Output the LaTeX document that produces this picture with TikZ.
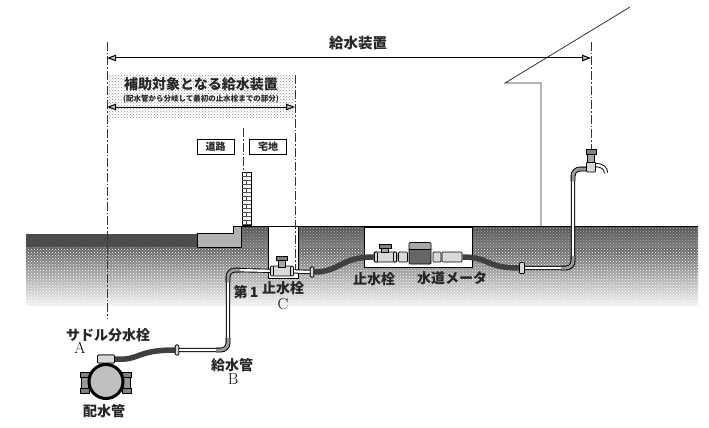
\documentclass[tikz,border=0pt]{standalone}
\usepackage{fontspec}
\newfontfamily\jpfont{Noto Sans CJK JP}
\usetikzlibrary{arrows.meta,patterns}
\tikzset{
  jp/.style={font=\jpfont\bfseries\fontsize{#1}{#1}\selectfont,inner sep=0pt,text=black!85},
  latin/.style={font=\fontsize{16}{16}\selectfont,inner sep=0pt,text=black},
  axisline/.style={dash pattern=on 9pt off 2pt on 1.5pt off 2pt,line width=.8pt,black!80},
  spanarrow/.style={<->,>={Triangle[length=9pt,width=6.5pt,fill=black!25]},line width=1pt},
  tagbox/.style={draw,line width=.8pt,fill=white,inner sep=0pt,minimum width=37pt,minimum height=15pt},
  pipe/.style={draw=black,double=white,double distance=2.4pt,line width=.9pt,rounded corners=7pt},
  pipebend/.style={draw=black,double=black!40,double distance=3pt,line width=.9pt,rounded corners=7pt},
  hose/.style={line width=5.5pt,black!75},
  fitting/.style={draw,line width=.7pt,fill=black!15,rounded corners=1pt,inner sep=0pt,minimum width=#1,minimum height=10pt},
  handlecap/.style={draw,line width=.7pt,fill=black!50,inner sep=0pt,minimum width=#1,minimum height=4.5pt},
  neck/.style={draw,line width=.6pt,fill=black!35,inner sep=0pt,minimum width=7pt,minimum height=#1},
}
\begin{document}
\begin{tikzpicture}[x=1pt,y=-1pt]
  \useasboundingbox (0,0) rectangle (709,428);
  % ground
  \shade[top color=black!62,bottom color=black!5] (26,247) rectangle (698,305);
  \fill[pattern=crosshatch dots,pattern color=white] (26,247) rectangle (698,305);
  \shade[top color=black!68,bottom color=black!52] (241,226) rectangle (698,247);
  \fill[pattern=crosshatch dots,pattern color=white!70!black] (241,226) rectangle (698,247);
  \fill[black!70] (26,234) rectangle (197,247);
  \draw[fill=black!30,line width=.6pt] (197,233) -- (233,233) -- (233,226) -- (241,226) -- (241,247) -- (197,247) -- cycle;
  \draw[line width=.7pt] (241,226) -- (698,226);
  \draw[fill=white,line width=.7pt] (268,226) rectangle (298,278);
  \draw[fill=white,line width=.7pt] (364,227) rectangle (472,267);
  % brick wall
  \draw[fill=white,line width=.6pt] (242,172) rectangle (251,225);
  \foreach \y in {176,180,...,224} {
    \draw[black!70,line width=.4pt] (242,\y) -- (251,\y);
  }
  \foreach \y in {172,180,...,220} {
    \draw[black!70,line width=.4pt] (246.5,\y) -- (246.5,\y+4);
  }
  % building
  \coordinate (roofTop) at (630,7);
  \coordinate (roofEnd) at (505,83);
  \coordinate (wallTop) at (541,83);
  \coordinate (wallEnd) at (541,226);
  \draw[line width=.8pt,black!80] (roofTop) -- (roofEnd) -- (wallTop) -- (wallEnd);
  % span of the subsidised part
  \fill[pattern=crosshatch dots,pattern color=black!45] (108,75) rectangle (294,117);
  % centre lines
  \coordinate (mainTop) at (107,42);
  \coordinate (mainEnd) at (107,318);
  \coordinate (stopTop) at (295,75);
  \coordinate (stopEnd) at (295,270);
  \coordinate (roadTop) at (243,128);
  \coordinate (roadEnd) at (243,172);
  \coordinate (tapTop) at (591,42);
  \coordinate (tapEnd) at (591,150);
  \draw[axisline] (mainTop) -- (mainEnd);
  \draw[axisline] (stopTop) -- (stopEnd);
  \draw[axisline] (roadTop) -- (roadEnd);
  \draw[axisline] (tapTop) -- (tapEnd);
  \coordinate (spanL) at (107,58);
  \coordinate (spanR) at (591,58);
  \coordinate (partL) at (107,107);
  \coordinate (partR) at (295,107);
  \draw[spanarrow] (spanL) -- (spanR);
  \draw[spanarrow] (partL) -- (partR);
  % pipes
  \node[fitting=17pt,minimum height=8pt] (saddle) at (106,359) {};
  \node[fitting=3.5pt] (jointB) at (177,350) {};
  \node[fitting=18pt] (stopC) at (282,271) {};
  \node[fitting=3.5pt] (jointC) at (312,272) {};
  \node[fitting=23pt] (stopM) at (385.5,257) {};
  \node[fitting=9pt] (fitL) at (403,257) {};
  \node[fitting=8pt] (fitR) at (437,257) {};
  \node[fitting=20pt] (fitE) at (452,257) {};
  \node[fitting=5pt,minimum height=11pt] (jointE) at (522,268) {};
  \coordinate (elbowB) at (228,350);
  \coordinate (elbowU) at (228,270);
  \coordinate (elbowE) at (573,268);
  \coordinate (elbowT) at (573,169);
  \coordinate (tapIn) at (587,169);
  \coordinate (bendBa) at (216,350);
  \coordinate (bendBb) at (228,338);
  \coordinate (bendUa) at (228,282);
  \coordinate (bendUb) at (240,270);
  \coordinate (bendEa) at (561,268);
  \coordinate (bendEb) at (573,256);
  \coordinate (bendTa) at (573,181);
  \draw[pipe] (jointB) -- (elbowB) -- (elbowU) -- (stopC);
  \draw[pipe] (stopC) -- (jointC);
  \draw[pipe] (jointE) -- (elbowE) -- (elbowT) -- (tapIn);
  \draw[pipebend] (bendBa) -- (elbowB) -- (bendBb);
  \draw[pipebend] (bendUa) -- (elbowU) -- (bendUb);
  \draw[pipebend] (bendEa) -- (elbowE) -- (bendEb);
  \draw[pipebend] (bendTa) -- (elbowT) -- (tapIn);
  \draw[hose] (saddle.east) .. controls (140,361) and (135,350) .. (jointB.west);
  \draw[hose] (jointC.east) .. controls (340,272) and (340,257) .. (stopM.west);
  \draw[hose] (fitE.east) .. controls (490,257) and (485,268) .. (jointE.west);
  % fittings drawn again over the pipe ends
  \node[fitting=3.5pt] at (jointB) {};
  \node[fitting=3.5pt] at (jointC) {};
  \node[fitting=5pt,minimum height=11pt] at (jointE) {};
  \node[fitting=17pt,minimum height=8pt] at (saddle) {};
  % stop valves
  \foreach \x in {272,292} {
    \node[fitting=3pt] (collarC\x) at (\x,271) {};
  }
  \foreach \x in {376,395} {
    \node[fitting=3pt] (collarM\x) at (\x,257) {};
  }
  \node[neck=7pt] (neckC) at (282,263.5) {};
  \node[handlecap=11pt] (handleC) at (282,258.5) {};
  \node[neck=5pt] (neckM) at (385,250) {};
  \node[handlecap=12pt] (handleM) at (385,246.5) {};
  % meter
  \node[fitting=22pt,minimum height=16pt,fill=black!60] (meter) at (420,256) {};
  \node[fitting=22pt,minimum height=7pt,fill=black!35] (meterTop) at (420,246) {};
  % tap
  \coordinate (spoutIn) at (595,165);
  \coordinate (spoutEnd) at (606,173);
  \draw[draw=black,double=white,double distance=2.4pt,line width=.9pt] (spoutIn) .. controls (602,165) and (606,168) .. (spoutEnd);
  \node[fitting=9pt,minimum height=10pt] (tapBody) at (591,167) {};
  \node[neck=8pt] (neckT) at (591,158) {};
  \node[handlecap=10pt] (handleT) at (591,152) {};
  % water main
  \node[fitting=7pt,minimum height=16pt,fill=black!40] (flangeL) at (85,383) {};
  \node[fitting=7pt,minimum height=16pt,fill=black!40] (flangeR) at (127,383) {};
  \foreach \x in {85,127} {
    \node[handlecap=9pt] (boltA\x) at (\x,375) {};
    \node[handlecap=9pt] (boltB\x) at (\x,391) {};
  }
  \node[draw,circle,line width=3pt,fill=black!25,inner sep=0pt,minimum size=34pt] (main) at (106,381.5) {};
  % labels
  \node[jp=14.5] (allLabel) at (358,43) {給水装置};
  \node[jp=14] (partLabel) at (201,84) {補助対象となる給水装置};
  \node[jp=7.5] (partNote) at (201,99) {(配水管から分岐して最初の止水栓までの部分)};
  \node[tagbox,jp=10] (road) at (215.5,146.5) {道路};
  \node[tagbox,jp=10] (site) at (268,146.5) {宅地};
  \node[jp=14] (first) at (246,292) {第\,1};
  \node[jp=14] (stopLabel) at (283,288) {止水栓};
  \node[latin] (stopMark) at (283,304) {C};
  \node[jp=14] (stopName) at (374,279) {止水栓};
  \node[jp=14] (meterName) at (452,278) {水道メータ};
  \node[jp=14] (saddleName) at (108,335) {サドル分水栓};
  \node[latin] (saddleMark) at (80,348) {A};
  \node[jp=14] (pipeName) at (232,365) {給水管};
  \node[latin] (pipeMark) at (233,379) {B};
  \node[jp=14] (mainName) at (104,411) {配水管};
\end{tikzpicture}
\end{document}
